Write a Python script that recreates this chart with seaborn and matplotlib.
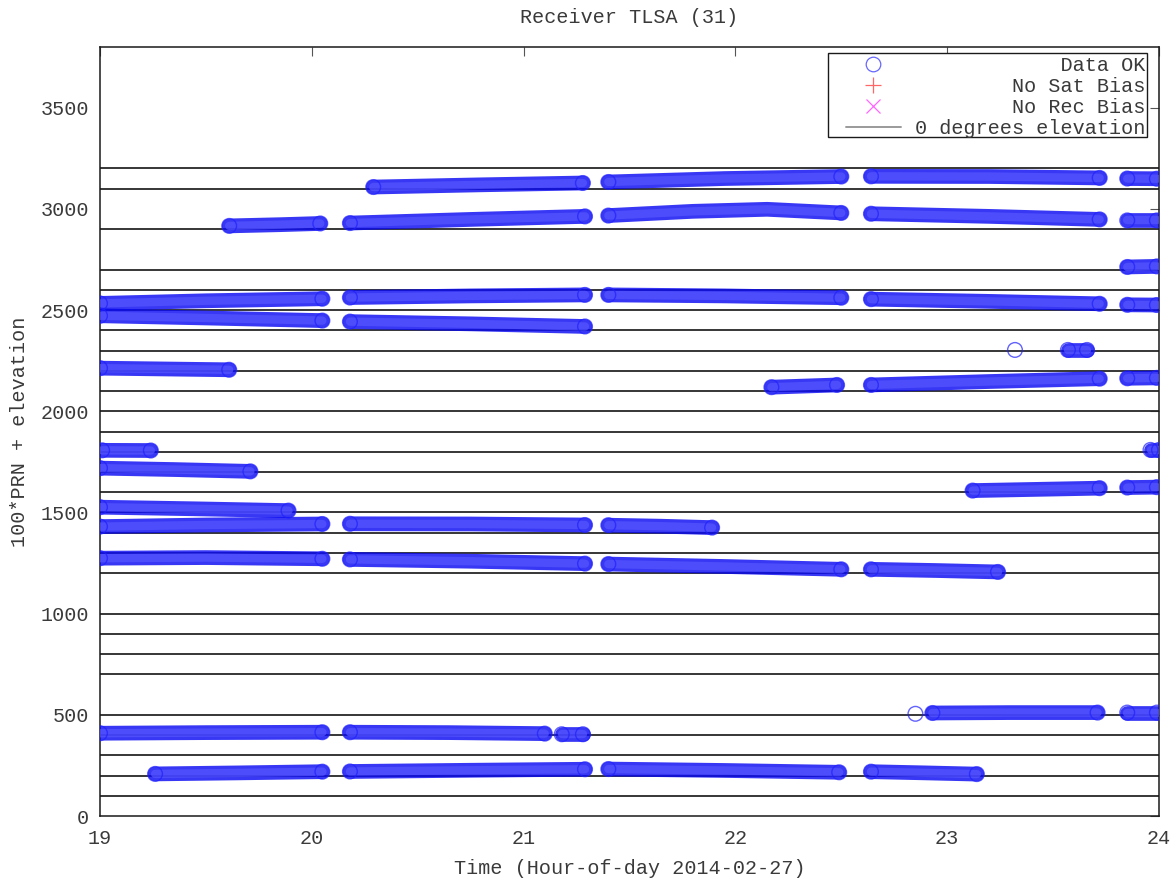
import matplotlib
matplotlib.use("Agg")
import matplotlib.pyplot as plt
from matplotlib.lines import Line2D
from matplotlib.patches import Rectangle
import pandas as pd
import seaborn as sns

# ---------------------------------------------------------------------------
# Data: each tracked arc of a satellite is one segment (PRN, hours, 100*PRN+elev)
# ---------------------------------------------------------------------------
TITLE = "Receiver TLSA (31)"
X_LABEL = "Time (Hour-of-day 2014-02-27)"
Y_LABEL = "100*PRN + elevation"
LEGEND_LABELS = ["Data OK", "No Sat Bias", "No Rec Bias", "0 degrees elevation"]

x_ticks = [19, 20, 21, 22, 23, 24]
y_ticks = [0, 500, 1000, 1500, 2000, 2500, 3000, 3500]

# PRNs for which the zero-elevation reference line is drawn
zero_line_prns = [1, 2, 3, 4, 5, 7, 8, 9, 10, 12, 13, 14, 15, 16, 17, 18,
                  19, 20, 21, 22, 23, 24, 25, 26, 27, 29, 31, 32]

seg_prn = [
    2, 2, 2, 2,
    4, 4, 4,
    5, 5, 5,
    12, 12, 12, 12,
    14, 14, 14,
    15,
    16, 16,
    17,
    18, 18,
    21, 21, 21,
    22,
    23, 23,
    24, 24,
    25, 25, 25, 25, 25,
    27,
    29, 29, 29, 29, 29,
    31, 31, 31, 31,
]

seg_hours = [
    [19.26, 19.65, 20.05], [20.18, 20.75, 21.29], [21.40, 21.95, 22.49], [22.64, 22.90, 23.14],
    [19.00, 19.50, 20.05], [20.18, 20.65, 21.10], [21.18, 21.28],
    [22.85], [22.93, 23.30, 23.71], [23.85, 23.99],
    [19.00, 19.50, 20.05], [20.18, 20.75, 21.29], [21.40, 21.95, 22.50], [22.64, 22.95, 23.24],
    [19.00, 19.50, 20.05], [20.18, 20.75, 21.29], [21.40, 21.65, 21.89],
    [19.00, 19.45, 19.89],
    [23.12, 23.42, 23.72], [23.85, 23.99],
    [19.00, 19.35, 19.71],
    [19.01, 19.24], [23.96, 24.00],
    [22.17, 22.48], [22.64, 23.20, 23.72], [23.85, 23.99],
    [19.00, 19.61],
    [23.32], [23.57, 23.66],
    [19.00, 19.50, 20.05], [20.18, 20.75, 21.29],
    [19.00, 19.50, 20.05], [20.18, 20.75, 21.29], [21.40, 21.95, 22.50], [22.64, 23.20, 23.72], [23.85, 23.99],
    [23.85, 23.99],
    [19.61, 19.85, 20.04], [20.18, 20.75, 21.29], [21.40, 21.80, 22.15, 22.50], [22.64, 23.20, 23.72], [23.85, 23.99],
    [20.29, 20.80, 21.28], [21.40, 21.95, 22.50], [22.64, 23.20, 23.72], [23.85, 23.99],
]

seg_values = [
    [208, 213, 219], [220, 226, 231], [232, 225, 216], [219, 213, 207],
    [409, 412, 414], [414, 412, 407], [404, 404],
    [505], [509, 511, 511], [511, 511],
    [1274, 1277, 1271], [1268, 1259, 1247], [1245, 1233, 1219], [1219, 1213, 1206],
    [1430, 1438, 1443], [1444, 1443, 1438], [1437, 1432, 1425],
    [1526, 1518, 1509],
    [1608, 1614, 1620], [1623, 1625],
    [1719, 1712, 1703],
    [1807, 1806], [1809, 1809],
    [2119, 2130], [2130, 2147, 2161], [2163, 2165],
    [2213, 2205],
    [2303], [2303, 2303],
    [2472, 2461, 2448], [2443, 2432, 2419],
    [2533, 2546, 2556], [2562, 2570, 2575], [2575, 2570, 2561], [2554, 2543, 2531], [2526, 2525],
    [2713, 2716],
    [2916, 2922, 2928], [2930, 2948, 2963], [2967, 2988, 2998, 2980], [2976, 2963, 2948], [2943, 2943],
    [3108, 3119, 3128], [3133, 3150, 3160], [3161, 3160, 3153], [3150, 3149],
]

rows = []
for seg_id, (prn, hours, values) in enumerate(zip(seg_prn, seg_hours, seg_values)):
    for k, (h, v) in enumerate(zip(hours, values)):
        rows.append({"seg": seg_id, "prn": prn, "hour": h, "value": v,
                     "end": k == 0 or k == len(hours) - 1})
df = pd.DataFrame(rows)

# ---------------------------------------------------------------------------
# Style
# ---------------------------------------------------------------------------
sns.set_style("white")
plt.rcParams["font.family"] = ["Liberation Mono", "DejaVu Sans Mono"]
TEXT_COLOR = "#3a3a3a"
FS = 14.5

fig = plt.figure(figsize=(11.71, 8.82), dpi=100)
ax = fig.add_axes([100 / 1171, 1 - 816 / 882, 1059 / 1171, 769 / 882])

# zero-elevation reference lines
ax.hlines([100 * p for p in zero_line_prns], 19, 24, colors="#262626",
          linewidth=1.3, zorder=1)

# tracked arcs: a dense band of open circles -> saturated rim, lighter core
sns.lineplot(data=df, x="hour", y="value", units="seg", estimator=None,
             sort=False, color="#0c0cf2", linewidth=10.6, alpha=0.82,
             solid_capstyle="round", legend=False, ax=ax, zorder=3)
sns.lineplot(data=df, x="hour", y="value", units="seg", estimator=None,
             sort=False, color="#5656ff", linewidth=6.0, alpha=0.7,
             solid_capstyle="round", legend=False, ax=ax, zorder=3.5)
sns.scatterplot(data=df[df["end"]], x="hour", y="value", marker="o", s=112,
                linewidth=1.0, legend=False, ax=ax, zorder=4)
pts = ax.collections[-1]
pts.set_facecolor("none")
pts.set_edgecolor("#2020ff")
pts.set_alpha(0.7)

ax.set_xlim(19, 24)
ax.set_ylim(0, 3800)
ax.set_xticks(x_ticks)
ax.set_xticklabels([str(t) for t in x_ticks])
ax.set_yticks(y_ticks)
ax.set_yticklabels([str(t) for t in y_ticks])

ax.tick_params(direction="in", length=6.5, width=0.8, color="#555555",
               top=True, right=True, labelsize=FS, labelcolor=TEXT_COLOR)
ax.tick_params(axis="x", pad=9)
ax.tick_params(axis="y", pad=8)
for sp in ax.spines.values():
    sp.set_visible(True)
    sp.set_color("#1a1a1a")
    sp.set_linewidth(1.1)

ax.set_title(TITLE, fontsize=FS, color=TEXT_COLOR, pad=17)
ax.set_xlabel(X_LABEL, fontsize=FS, color=TEXT_COLOR, labelpad=8)
ax.set_ylabel(Y_LABEL, fontsize=FS, color=TEXT_COLOR, labelpad=8)

# legend: right-justified labels (monospace padding) inside a drawn box
box = Rectangle((828 / 1171, 1 - 137 / 882), 319 / 1171, 84 / 882,
                transform=fig.transFigure, facecolor="white",
                edgecolor="#1a1a1a", linewidth=1.0, zorder=5)
fig.add_artist(box)
width = max(len(s) for s in LEGEND_LABELS)
handles = [
    Line2D([], [], linestyle="none", marker="o", markersize=10.5,
           markerfacecolor="none", markeredgecolor="#0000ff", markeredgewidth=0.9,
           alpha=0.6),
    Line2D([], [], linestyle="none", marker="+", markersize=11,
           color="#ff0000", markeredgewidth=0.9, alpha=0.6),
    Line2D([], [], linestyle="none", marker="x", markersize=10,
           color="#ff00ff", markeredgewidth=0.9, alpha=0.6),
    Line2D([], [], color="#9a9a9a", linewidth=1.4),
]
leg = fig.legend(handles, [s.rjust(width) for s in LEGEND_LABELS],
                 loc="upper right", bbox_to_anchor=(1147 / 1171, 1 - 54 / 882),
                 fontsize=FS, frameon=False, borderpad=0.1,
                 labelspacing=0.1, handlelength=2.7, handletextpad=0.7,
                 borderaxespad=0)
leg.set_zorder(6)
for t in leg.get_texts():
    t.set_color(TEXT_COLOR)

fig.savefig("out.png", dpi=100)
